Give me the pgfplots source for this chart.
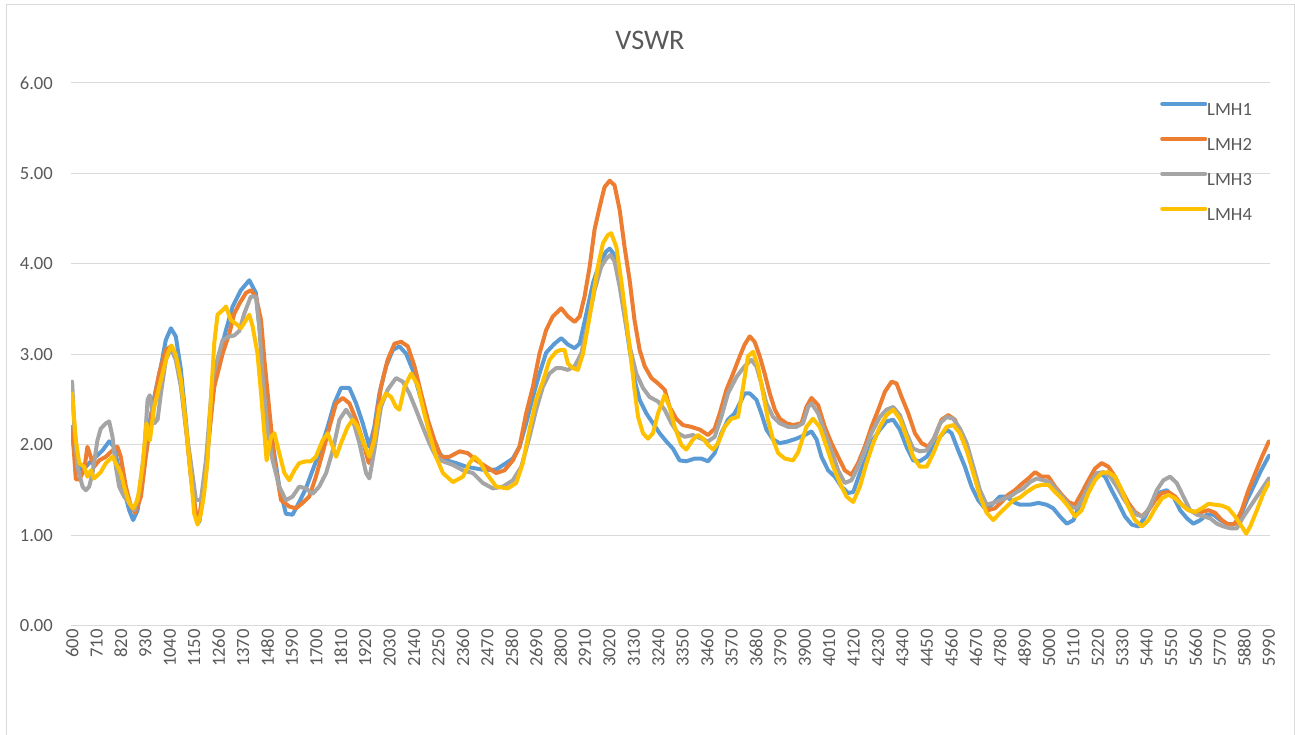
\documentclass[border=0pt]{standalone}
\usepackage{pgfplots}
\pgfplotsset{compat=1.18}
\usepackage{fontspec}
\setmainfont{Carlito}
\definecolor{s1}{HTML}{5B9BD5}
\definecolor{s2}{HTML}{ED7D31}
\definecolor{s3}{HTML}{A5A5A5}
\definecolor{s4}{HTML}{FFC000}
\definecolor{txt}{HTML}{595959}
\definecolor{grd}{HTML}{D9D9D9}
\begin{document}
\begin{tikzpicture}[x=1pt,y=1pt]
\path[use as bounding box] (0,0) rectangle (1295,735);
\draw[grd, line width=1pt] (6,-2) -- (6,730) -- (1294,730) -- (1294,-2);
\node[font=\fontsize{28.3}{32}\selectfont, text=txt] at (650,694.2) {VSWR};
\begin{axis}[
  at={(71pt,109pt)}, anchor=south west,
  scale only axis, width=1199pt, height=543pt,
  xmin=595, xmax=5995, ymin=0, ymax=6,
  axis line style={draw=none},
  ymajorgrids, grid style={grd, line width=1pt},
  major tick length=0pt,
  xtick={600,710,...,5990},
  ytick={0,1,2,3,4,5,6},
  scaled x ticks=false, scaled y ticks=false,
  /pgf/number format/assume math mode=true,
  xticklabel style={rotate=90, anchor=east, inner sep=0pt, xshift=-3pt,
    font=\fontsize{18.6}{20}\selectfont, text=txt, /pgf/number format/1000 sep={}},
  yticklabel style={anchor=east, inner sep=0pt, xshift=-18pt,
    font=\fontsize{18.6}{20}\selectfont, text=txt,
    /pgf/number format/fixed, /pgf/number format/fixed zerofill, /pgf/number format/precision=2},
  legend style={at={(axis description cs:0.9083,0.9655)}, anchor=north west,
    draw=none, fill=none, inner sep=0pt, row sep=20.9pt,
    font=\fontsize{18.6}{20}\selectfont, text=txt,
    nodes={inner sep=0pt, text height=12pt, text depth=0pt},
    /tikz/every even column/.append style={column sep=3.7pt}},
  legend cell align=left,
  legend image code/.code={\draw[#1, line width=4pt] (0pt,6pt) -- (43pt,6pt);},
  every axis plot/.append style={line width=4pt, line join=round, line cap=round, mark=none},
]
\addplot[s1] coordinates {
(600,2.13) (617,1.80) (647,1.72) (677,1.80) (707,1.87) (737,1.94) (767,2.04) (789,1.98)
(812,1.72) (834,1.50) (857,1.28) (875,1.17) (895,1.28) (917,1.69) (940,2.13) (970,2.53)
(1000,2.87) (1022,3.16) (1045,3.29) (1067,3.20) (1090,2.83) (1112,2.28) (1135,1.65) (1158,1.21)
(1173,1.15) (1203,1.69) (1233,2.57) (1263,2.98) (1293,3.27) (1323,3.53) (1360,3.71) (1398,3.82)
(1428,3.68) (1451,3.12) (1473,2.57) (1503,2.02) (1533,1.54) (1563,1.24) (1593,1.23) (1623,1.37)
(1653,1.52) (1683,1.72) (1713,1.91) (1751,2.20) (1781,2.46) (1811,2.63) (1849,2.63) (1879,2.46)
(1909,2.24) (1939,1.98) (1961,2.20) (1984,2.57) (2014,2.87) (2044,3.05) (2074,3.09) (2104,3.01)
(2134,2.83) (2164,2.57) (2194,2.31) (2224,2.09) (2254,1.91) (2285,1.83) (2330,1.80) (2375,1.76)
(2420,1.74) (2465,1.72) (2510,1.73) (2555,1.80) (2585,1.85) (2615,1.98) (2645,2.24) (2675,2.53)
(2705,2.79) (2735,3.02) (2773,3.12) (2803,3.18) (2833,3.11) (2863,3.07) (2886,3.12) (2916,3.45)
(2946,3.79) (2976,4.01) (3006,4.14) (3021,4.17) (3043,4.10) (3066,3.82) (3088,3.45) (3111,3.05)
(3133,2.72) (3156,2.50) (3186,2.35) (3216,2.24) (3246,2.13) (3276,2.04) (3306,1.96) (3336,1.83)
(3366,1.82) (3404,1.85) (3434,1.85) (3464,1.82) (3494,1.91) (3524,2.13) (3554,2.28) (3584,2.35)
(3607,2.46) (3629,2.57) (3652,2.57) (3682,2.50) (3704,2.35) (3727,2.17) (3757,2.06) (3787,2.02)
(3825,2.04) (3862,2.07) (3900,2.11) (3930,2.15) (3953,2.06) (3975,1.87) (4005,1.72) (4035,1.65)
(4065,1.54) (4095,1.47) (4118,1.48) (4148,1.69) (4178,1.87) (4208,2.06) (4238,2.17) (4268,2.26)
(4298,2.28) (4328,2.17) (4358,1.98) (4388,1.83) (4418,1.82) (4449,1.87) (4479,1.98) (4509,2.09)
(4539,2.17) (4561,2.13) (4591,1.94) (4621,1.76) (4651,1.54) (4681,1.39) (4711,1.30) (4741,1.34)
(4779,1.43) (4809,1.43) (4839,1.37) (4869,1.34) (4914,1.34) (4952,1.36) (4989,1.34) (5019,1.30)
(5049,1.21) (5080,1.13) (5110,1.17) (5140,1.36) (5170,1.50) (5200,1.61) (5230,1.69) (5252,1.65)
(5282,1.50) (5312,1.36) (5342,1.21) (5373,1.12) (5403,1.10) (5433,1.21) (5463,1.36) (5493,1.47)
(5530,1.50) (5560,1.43) (5590,1.28) (5621,1.19) (5650,1.13) (5681,1.17) (5711,1.23) (5741,1.23)
(5771,1.17) (5801,1.13) (5831,1.12) (5861,1.21) (5891,1.39) (5921,1.54) (5951,1.70) (5990,1.88)
};
\addlegendentry{LMH1}
\addplot[s2] coordinates {
(600,2.20) (617,1.62) (632,1.62) (654,1.72) (669,1.98) (684,1.87) (699,1.76) (722,1.83)
(752,1.87) (782,1.94) (804,1.98) (819,1.87) (842,1.54) (865,1.32) (884,1.25) (910,1.43)
(932,1.87) (962,2.39) (992,2.79) (1022,3.05) (1045,3.09) (1067,2.98) (1090,2.69) (1112,2.20)
(1135,1.65) (1158,1.24) (1170,1.16) (1188,1.47) (1218,2.13) (1240,2.64) (1278,3.01) (1308,3.23)
(1330,3.45) (1353,3.56) (1383,3.68) (1405,3.71) (1428,3.64) (1451,3.38) (1466,2.94) (1488,2.39)
(1511,1.83) (1541,1.39) (1578,1.32) (1608,1.30) (1638,1.36) (1668,1.43) (1698,1.65) (1728,1.91)
(1759,2.20) (1789,2.46) (1819,2.52) (1849,2.46) (1879,2.28) (1909,2.05) (1936,1.80) (1961,2.13)
(1991,2.64) (2021,2.94) (2052,3.12) (2082,3.14) (2112,3.09) (2142,2.87) (2172,2.57) (2202,2.28)
(2232,2.05) (2262,1.87) (2300,1.87) (2345,1.93) (2382,1.91) (2420,1.83) (2465,1.76) (2510,1.69)
(2547,1.72) (2585,1.83) (2615,1.98) (2645,2.35) (2675,2.64) (2705,3.01) (2735,3.27) (2765,3.42)
(2803,3.51) (2833,3.42) (2863,3.36) (2886,3.42) (2908,3.64) (2931,3.97) (2953,4.38) (2976,4.63)
(2998,4.85) (3021,4.92) (3043,4.87) (3066,4.60) (3088,4.19) (3111,3.82) (3133,3.38) (3156,3.05)
(3179,2.87) (3209,2.74) (3239,2.68) (3269,2.61) (3291,2.42) (3321,2.29) (3351,2.22) (3389,2.20)
(3427,2.17) (3464,2.11) (3494,2.18) (3517,2.35) (3547,2.61) (3577,2.79) (3607,2.98) (3629,3.11)
(3652,3.20) (3674,3.14) (3697,2.98) (3719,2.79) (3742,2.57) (3765,2.39) (3787,2.29) (3817,2.24)
(3847,2.22) (3885,2.24) (3907,2.42) (3930,2.52) (3960,2.44) (3990,2.20) (4020,2.02) (4050,1.87)
(4080,1.72) (4110,1.67) (4140,1.80) (4170,1.98) (4200,2.20) (4231,2.39) (4261,2.59) (4291,2.70)
(4313,2.68) (4336,2.53) (4366,2.35) (4396,2.13) (4426,2.02) (4456,1.98) (4486,2.09) (4516,2.28)
(4546,2.33) (4576,2.28) (4606,2.09) (4636,1.91) (4666,1.65) (4696,1.39) (4726,1.28) (4756,1.30)
(4786,1.37) (4816,1.45) (4846,1.50) (4877,1.57) (4907,1.63) (4937,1.70) (4967,1.65) (4997,1.65)
(5027,1.54) (5057,1.45) (5087,1.37) (5117,1.34) (5147,1.47) (5177,1.61) (5207,1.74) (5237,1.80)
(5267,1.76) (5297,1.65) (5327,1.50) (5357,1.36) (5387,1.26) (5418,1.21) (5448,1.28) (5478,1.39)
(5508,1.47) (5538,1.48) (5568,1.43) (5598,1.34) (5628,1.28) (5658,1.26) (5688,1.26) (5718,1.28)
(5748,1.25) (5778,1.17) (5808,1.12) (5838,1.13) (5868,1.28) (5898,1.50) (5929,1.69) (5959,1.87)
(5990,2.04)
};
\addlegendentry{LMH2}
\addplot[s3] coordinates {
(600,2.70) (609,2.24) (624,1.76) (647,1.54) (662,1.50) (677,1.54) (692,1.69) (714,2.05)
(729,2.18) (752,2.24) (767,2.26) (782,2.09) (797,1.76) (812,1.54) (834,1.43) (857,1.36)
(880,1.28) (902,1.47) (925,1.94) (940,2.50) (950,2.55) (970,2.24) (985,2.28) (1000,2.57)
(1022,2.94) (1045,3.07) (1067,2.94) (1090,2.64) (1112,2.20) (1135,1.80) (1158,1.39) (1180,1.39)
(1203,1.83) (1233,2.75) (1278,3.16) (1308,3.20) (1330,3.21) (1353,3.26) (1375,3.45) (1405,3.64)
(1428,3.64) (1443,3.31) (1458,2.75) (1480,2.17) (1503,1.83) (1533,1.54) (1563,1.39) (1593,1.43)
(1623,1.54) (1653,1.52) (1683,1.46) (1713,1.54) (1744,1.69) (1774,1.94) (1804,2.28) (1834,2.39)
(1864,2.28) (1894,2.02) (1924,1.69) (1939,1.63) (1961,1.94) (1991,2.42) (2021,2.61) (2059,2.74)
(2089,2.70) (2119,2.57) (2149,2.39) (2179,2.20) (2209,2.02) (2239,1.87) (2270,1.82) (2315,1.78)
(2360,1.72) (2405,1.69) (2450,1.58) (2495,1.52) (2540,1.54) (2585,1.61) (2623,1.76) (2660,2.09)
(2690,2.39) (2720,2.64) (2750,2.79) (2780,2.85) (2803,2.85) (2833,2.83) (2863,2.87) (2893,3.01)
(2923,3.34) (2953,3.71) (2983,3.97) (3006,4.06) (3024,4.10) (3043,4.03) (3066,3.75) (3088,3.42)
(3111,3.09) (3141,2.79) (3171,2.63) (3201,2.53) (3239,2.48) (3269,2.39) (3299,2.24) (3329,2.13)
(3359,2.09) (3396,2.11) (3434,2.07) (3464,2.04) (3494,2.09) (3524,2.31) (3554,2.57) (3592,2.75)
(3629,2.87) (3659,2.94) (3682,2.87) (3704,2.68) (3727,2.46) (3757,2.31) (3787,2.24) (3825,2.20)
(3862,2.20) (3892,2.24) (3915,2.42) (3930,2.46) (3960,2.35) (3990,2.13) (4020,1.94) (4050,1.72)
(4080,1.58) (4110,1.61) (4140,1.76) (4170,1.94) (4200,2.13) (4238,2.31) (4268,2.39) (4298,2.42)
(4328,2.33) (4358,2.13) (4388,1.96) (4418,1.93) (4449,1.94) (4479,2.06) (4509,2.24) (4539,2.31)
(4569,2.29) (4599,2.18) (4629,2.02) (4659,1.76) (4689,1.50) (4719,1.34) (4749,1.36) (4779,1.39)
(4824,1.43) (4854,1.48) (4884,1.52) (4914,1.59) (4944,1.63) (4974,1.61) (5004,1.59) (5034,1.50)
(5065,1.41) (5095,1.32) (5125,1.30) (5155,1.43) (5185,1.58) (5215,1.69) (5245,1.70) (5275,1.65)
(5305,1.54) (5335,1.41) (5365,1.30) (5395,1.23) (5425,1.21) (5455,1.32) (5485,1.50) (5515,1.61)
(5545,1.65) (5575,1.58) (5605,1.43) (5635,1.28) (5666,1.23) (5696,1.21) (5726,1.19) (5756,1.13)
(5786,1.10) (5816,1.08) (5846,1.08) (5876,1.21) (5906,1.32) (5936,1.43) (5966,1.54) (5990,1.63)
};
\addlegendentry{LMH3}
\addplot[s4] coordinates {
(600,2.57) (617,2.05) (632,1.80) (654,1.76) (669,1.65) (684,1.72) (699,1.63) (729,1.70)
(752,1.80) (782,1.87) (797,1.80) (819,1.69) (834,1.54) (857,1.36) (875,1.30) (895,1.39)
(917,1.76) (935,2.24) (950,2.05) (970,2.42) (1000,2.72) (1030,3.01) (1048,3.10) (1067,3.00)
(1090,2.72) (1112,2.24) (1135,1.65) (1150,1.24) (1165,1.12) (1180,1.24) (1195,1.47) (1210,1.83)
(1225,2.50) (1240,3.12) (1255,3.44) (1278,3.49) (1293,3.53) (1315,3.38) (1338,3.34) (1360,3.29)
(1383,3.38) (1398,3.44) (1413,3.31) (1435,3.01) (1451,2.57) (1466,2.13) (1476,1.83) (1496,2.09)
(1511,2.13) (1533,1.91) (1556,1.69) (1578,1.61) (1601,1.72) (1623,1.80) (1653,1.82) (1675,1.82)
(1698,1.87) (1728,2.05) (1751,2.13) (1774,1.98) (1789,1.87) (1811,2.02) (1841,2.20) (1864,2.28)
(1886,2.20) (1909,2.05) (1939,1.87) (1961,2.05) (1984,2.42) (2014,2.57) (2037,2.53) (2059,2.42)
(2074,2.39) (2097,2.64) (2127,2.79) (2157,2.66) (2179,2.42) (2209,2.13) (2239,1.87) (2270,1.69)
(2315,1.59) (2360,1.65) (2390,1.80) (2412,1.87) (2435,1.82) (2465,1.69) (2510,1.54) (2562,1.52)
(2600,1.58) (2630,1.80) (2660,2.17) (2690,2.50) (2720,2.70) (2750,2.94) (2780,3.03) (2800,3.05)
(2818,3.05) (2833,2.90) (2855,2.85) (2878,2.83) (2901,3.01) (2923,3.31) (2946,3.64) (2968,3.97)
(2991,4.23) (3013,4.32) (3028,4.34) (3051,4.19) (3073,3.82) (3096,3.38) (3118,2.94) (3133,2.61)
(3149,2.31) (3171,2.13) (3194,2.07) (3216,2.13) (3239,2.35) (3269,2.55) (3291,2.42) (3314,2.20)
(3344,2.00) (3366,1.95) (3396,2.06) (3419,2.11) (3442,2.07) (3464,2.00) (3487,1.95) (3509,2.02)
(3539,2.20) (3569,2.29) (3599,2.31) (3622,2.64) (3644,2.98) (3667,3.03) (3689,2.87) (3712,2.57)
(3734,2.28) (3757,2.06) (3780,1.91) (3810,1.85) (3847,1.83) (3870,1.92) (3907,2.20) (3937,2.29)
(3967,2.20) (3998,1.98) (4028,1.76) (4058,1.58) (4088,1.43) (4118,1.37) (4148,1.54) (4178,1.80)
(4208,2.02) (4238,2.20) (4268,2.33) (4298,2.39) (4328,2.29) (4358,2.09) (4388,1.87) (4418,1.76)
(4449,1.76) (4479,1.91) (4509,2.09) (4539,2.20) (4569,2.22) (4599,2.13) (4629,1.94) (4659,1.69)
(4689,1.43) (4719,1.25) (4749,1.17) (4779,1.25) (4809,1.32) (4839,1.39) (4869,1.42) (4899,1.48)
(4937,1.54) (4967,1.56) (4997,1.56) (5027,1.48) (5057,1.41) (5087,1.32) (5117,1.21) (5147,1.28)
(5177,1.47) (5207,1.61) (5237,1.69) (5267,1.70) (5297,1.65) (5327,1.50) (5357,1.32) (5387,1.17)
(5418,1.10) (5448,1.17) (5478,1.30) (5508,1.41) (5538,1.45) (5568,1.41) (5598,1.34) (5628,1.28)
(5658,1.26) (5688,1.30) (5718,1.35) (5748,1.34) (5778,1.33) (5808,1.30) (5838,1.21) (5868,1.10)
(5888,1.02) (5906,1.10) (5936,1.28) (5966,1.47) (5990,1.58)
};
\addlegendentry{LMH4}
\end{axis}
\end{tikzpicture}
\end{document}
